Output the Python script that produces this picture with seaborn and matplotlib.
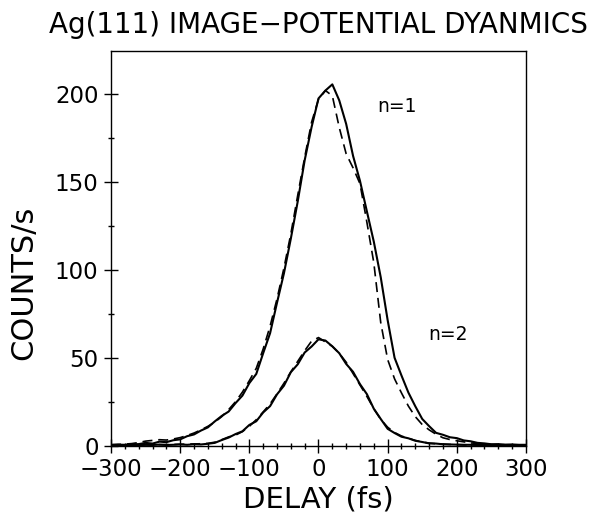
import numpy as np
import pandas as pd
import matplotlib
matplotlib.use('Agg')
import matplotlib.pyplot as plt
from matplotlib.ticker import MultipleLocator
import seaborn as sns

sns.set_style('ticks')
plt.rcParams['font.family'] = ['DejaVu Sans']
plt.rcParams['text.color'] = 'black'
plt.rcParams['axes.labelcolor'] = 'black'

# delay grid (fs)
delay = list(range(-300, 301, 10))

# n=1 measured (solid) and fit (dashed), counts/s
n1_meas = [0.4, 0.6, 0.5, 0.8, 0.9, 1.6, 1.2, 2.3, 2.0, 3.1,
           3.6, 5.4, 6.4, 8.6, 10.4, 13.8, 16.9, 19.4, 24.2, 28.5,
           35.6, 40.8, 52.6, 64.0, 81.3, 98.0, 117.8, 139.0, 162.3, 181.2,
           197.5, 202.0, 205.5, 196.4, 183.0, 164.8, 150.6, 133.2, 116.0, 95.8,
           71.4, 50.0, 39.9, 30.2, 22.4, 15.2, 11.1, 7.3, 6.2, 4.8,
           4.3, 3.0, 2.5, 1.6, 1.3, 0.8, 0.9, 0.6, 0.7, 0.5, 0.5]
n1_fit = [0.6, 0.7, 0.9, 1.2, 1.8, 2.6, 3.0, 3.4, 3.2, 3.8,
          4.6, 5.8, 7.2, 9.0, 11.0, 13.4, 16.5, 20.5, 25.0, 30.5,
          37.0, 44.0, 55.0, 68.0, 83.5, 101.0, 120.5, 142.5, 164.0, 184.0,
          197.0, 202.0, 199.0, 181.0, 166.0, 158.0, 149.0, 127.0, 104.0, 70.0,
          49.0, 38.0, 30.0, 22.5, 16.5, 12.0, 9.0, 6.5, 4.5, 3.5,
          2.8, 2.2, 1.6, 1.2, 0.9, 0.7, 0.6, 0.5, 0.5, 0.4, 0.4]

# n=2 measured (solid) and fit (dashed)
n2_meas = [0.3, 0.4, 0.3, 0.4, 0.3, 0.5, 0.4, 0.6, 0.4, 0.5,
           0.7, 0.5, 0.8, 0.7, 1.1, 1.6, 3.2, 4.6, 6.6, 8.2,
           11.8, 13.9, 18.9, 22.5, 29.2, 34.1, 41.8, 46.3, 53.0, 56.4,
           60.5, 59.8, 56.5, 52.6, 46.5, 42.0, 35.0, 29.3, 21.0, 15.2,
           9.6, 7.2, 5.1, 4.2, 2.8, 2.1, 1.3, 1.2, 0.8, 0.7,
           0.6, 0.5, 0.5, 0.4, 0.4, 0.4, 0.3, 0.3, 0.3, 0.3, 0.3]
n2_fit = [0.4, 0.4, 0.4, 0.5, 0.5, 0.5, 0.6, 0.6, 0.6, 0.7,
          0.8, 0.9, 1.0, 1.1, 1.3, 2.0, 3.4, 5.0, 6.0, 8.0,
          11.0, 14.8, 19.2, 23.8, 29.5, 35.5, 42.0, 48.0, 54.0, 59.5,
          61.5, 59.0, 56.5, 52.5, 47.5, 41.0, 34.5, 28.0, 21.0, 15.0,
          10.5, 7.5, 5.5, 4.2, 3.0, 2.1, 1.5, 1.1, 0.9, 0.7,
          0.6, 0.5, 0.5, 0.5, 0.4, 0.4, 0.4, 0.4, 0.3, 0.3, 0.3]

labels = ['n=1', 'n=2']

fig = plt.figure(figsize=(5.97, 5.18), dpi=100)
ax = fig.add_axes([0.186, 0.1396, 0.695, 0.762])

for ys in [n1_meas, n2_meas]:
    sns.lineplot(x=delay, y=ys, ax=ax, color='black', lw=1.5, estimator=None)
for ys in [n1_fit, n2_fit]:
    sns.lineplot(x=delay, y=ys, ax=ax, color='black', lw=1.2, estimator=None,
                 dashes=False, linestyle=(0, (6, 3.5)))

ax.set_xlim(-300, 300)
ax.set_ylim(0, 224.5)
ax.xaxis.set_major_locator(MultipleLocator(100))
ax.xaxis.set_minor_locator(MultipleLocator(20))
ax.yaxis.set_major_locator(MultipleLocator(50))
ax.yaxis.set_minor_locator(MultipleLocator(25))
ax.tick_params(which='both', direction='inout', top=False, right=False,
               width=1.0, colors='black', labelcolor='black',
               labelsize=16.5, pad=4)
ax.tick_params(which='major', length=10)
ax.tick_params(which='minor', length=5)
for sp in ax.spines.values():
    sp.set_linewidth(1.0)
    sp.set_color('black')

ax.text(114, 193, labels[0], fontsize=13.5, ha='center', va='center')
ax.text(187, 63, labels[1], fontsize=13.5, ha='center', va='center')

ax.set_xlabel('DELAY (fs)', fontsize=21)
ax.set_ylabel('COUNTS/s', fontsize=22)
ax.xaxis.set_label_coords(0.5, -0.1)
ax.yaxis.set_label_coords(-0.175, 0.412)
ax.set_title('Ag(111) IMAGE\u2212POTENTIAL DYANMICS', fontsize=20, pad=13)

fig.savefig('out.png', dpi=100)
